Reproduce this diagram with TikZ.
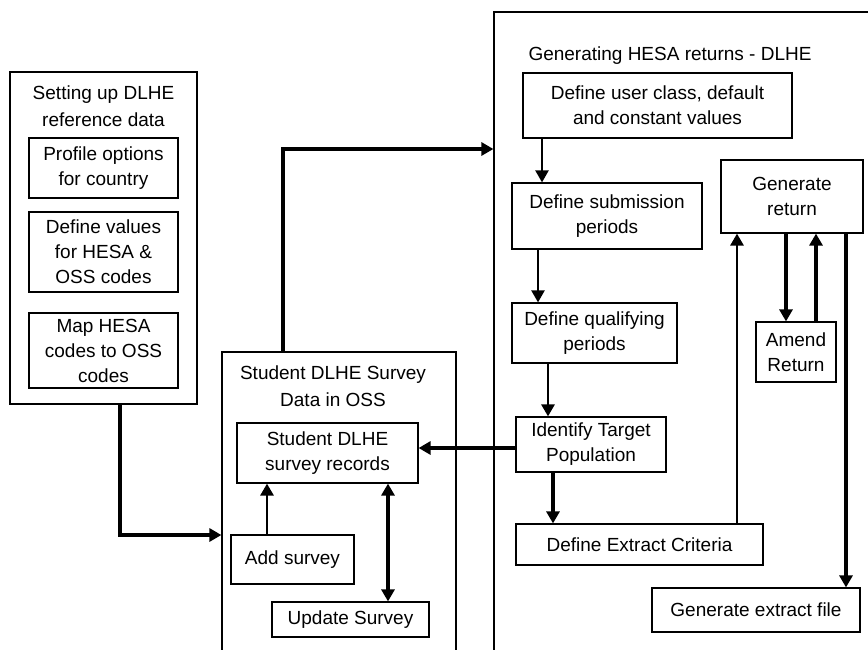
\documentclass[tikz,border=0pt]{standalone}
\usepackage{fontspec}
\setmainfont{Liberation Sans}
\usetikzlibrary{arrows.meta}
\tikzset{
  bx/.style={draw, line width=1.2pt, align=center, inner sep=0pt, anchor=center},
  cont/.style={draw, line width=1.2pt, inner sep=0pt, anchor=center},
  ttl/.style={align=center, inner sep=0pt, font=\fontsize{19}{27}\selectfont},
  tip/.style={-{Triangle[length=12pt,width=13pt]}},
  arrA/.style={tip, line width=2.2pt},
  arrB/.style={tip, line width=2.8pt},
  arrC/.style={tip, line width=3.5pt},
}
\begin{document}
\begin{tikzpicture}[x=1pt,y=-1pt,font=\fontsize{19}{25}\selectfont]
\useasboundingbox (0,0) rectangle (868,649);
\clip (0,0) rectangle (868,649);
% containers
\node[cont, minimum width=187pt, minimum height=332pt] (setup) at (103.5,238) {};
\node[ttl] (setupT) at (103.5,106.5) {Setting up DLHE\\reference data};
\node[cont, minimum width=234pt, minimum height=368pt] (student) at (339,536) {};
\node[ttl] (studentT) at (333,386.5) {Student DLHE Survey\\Data in OSS};
\node[cont, minimum width=406pt, minimum height=708pt] (right) at (697,366) {};
\node[ttl] (rightT) at (670,56) {Generating HESA returns - DLHE};
% left boxes
\node[bx, minimum width=149pt, minimum height=60pt] (profile) at (103.5,168) {Profile options\\for country};
\node[bx, minimum width=149pt, minimum height=80pt] (defval) at (103.5,252) {Define values\\for HESA \&\\OSS codes};
\node[bx, minimum width=149pt, minimum height=75pt] (map) at (103.5,350.5) {Map HESA\\codes to OSS\\codes};
% student boxes
\node[bx, minimum width=181pt, minimum height=60pt] (records) at (327.5,453) {Student DLHE\\survey records};
\node[bx, minimum width=123pt, minimum height=49pt] (add) at (292.5,559.5) {Add survey};
\node[bx, minimum width=157pt, minimum height=35pt] (update) at (350.5,619.5) {Update Survey};
% right boxes
\node[bx, minimum width=269pt, minimum height=65pt] (userclass) at (657.5,105.5) {Define user class, default\\and constant values};
\node[bx, minimum width=190pt, minimum height=66pt] (submission) at (607,216) {Define submission\\periods};
\node[bx, minimum width=165pt, minimum height=60pt] (qualifying) at (594.5,333) {Define qualifying\\periods};
\node[bx, minimum width=150pt, minimum height=55pt] (identify) at (591,444.5) {Identify Target\\Population};
\node[bx, minimum width=247pt, minimum height=41pt] (extract) at (639.5,544.5) {Define Extract Criteria};
\node[bx, minimum width=142pt, minimum height=73pt] (genreturn) at (792,196.5) {Generate\\return};
\node[bx, minimum width=80pt, minimum height=60pt] (amend) at (796,352) {Amend\\Return};
\node[bx, minimum width=208pt, minimum height=44pt] (genfile) at (756,610) {Generate extract file};
% connectors
\draw[arrC] (setup.south -| 120,0) |- (student.west |- 0,535);
\draw[arrC] (student.north -| 283,0) |- (right.west |- 0,149);
\draw[arrC] (identify.west |- 0,448) -- (records.east |- 0,448);
\draw[arrB] (add.north -| 267,0) -- (records.south -| 267,0);
\draw[arrC, {Triangle[length=12pt,width=13pt]}-{Triangle[length=12pt,width=13pt]}] (records.south -| 388,0) -- (update.north -| 388,0);
\draw[arrA] (userclass.south -| 542,0) -- (submission.north -| 542,0);
\draw[arrA] (submission.south -| 538,0) -- (qualifying.north -| 538,0);
\draw[arrB] (qualifying.south -| 548,0) -- (identify.north -| 548,0);
\draw[arrC] (identify.south -| 553,0) -- (extract.north -| 553,0);
\draw[arrB] (extract.north -| 737,0) -- (genreturn.south -| 737,0);
\draw[arrC] (genreturn.south -| 786,0) -- (amend.north -| 786,0);
\draw[arrC] (amend.north -| 816,0) -- (genreturn.south -| 816,0);
\draw[arrC] (genreturn.south -| 846,0) -- (genfile.north -| 846,0);
\end{tikzpicture}
\end{document}
